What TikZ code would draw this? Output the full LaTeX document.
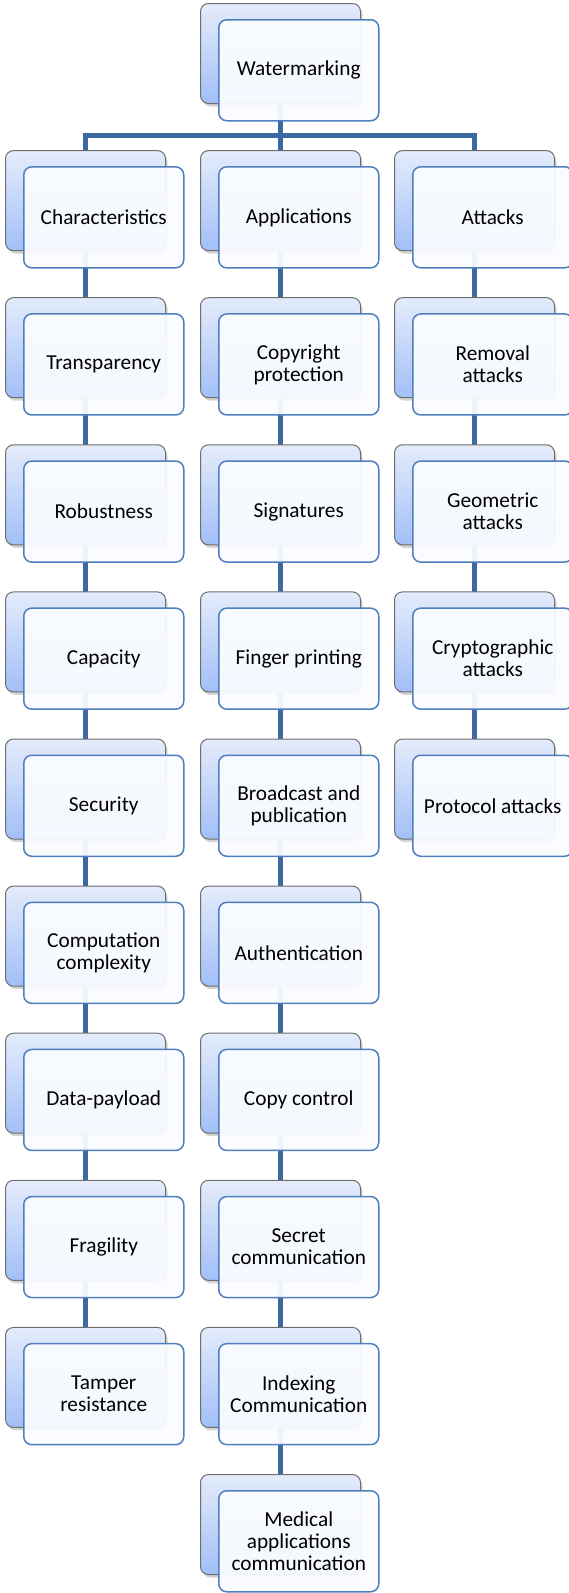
\documentclass[tikz,border=0pt]{standalone}
\usepackage{fontspec}
\setmainfont{Carlito}
\usetikzlibrary{shadows,calc}
\pgfdeclarelayer{background}
\pgfsetlayers{background,main}
\definecolor{connc}{HTML}{3D69A3}
\definecolor{backtop}{HTML}{E4ECFB}
\definecolor{backbot}{HTML}{A2BFF8}
\definecolor{backborder}{HTML}{6E6E6E}
\definecolor{frontfill}{HTML}{FAFCFF}
\definecolor{frontborder}{HTML}{4F7FBF}
\tikzset{
  backbox/.style={draw=backborder, line width=1pt, rounded corners=8pt,
    top color=backtop, bottom color=backbot, minimum width=160pt, minimum height=100pt,
    anchor=north west, inner sep=0pt,
    drop shadow={shadow xshift=2pt, shadow yshift=-3pt, opacity=0.35}},
  frontbox/.style={draw=frontborder, line width=1.5pt, rounded corners=8pt,
    fill=frontfill, fill opacity=0.94, text opacity=1, minimum width=160pt, minimum height=101pt,
    anchor=north west, inner sep=2pt, align=center, text=black,
    font=\fontsize{21.3}{22}\selectfont},
  conn/.style={draw=connc, line width=5pt}
}
\begin{document}
\begin{tikzpicture}[x=1pt,y=1pt]
\useasboundingbox (0,0) rectangle (569,-1593);
% column x positions (back box left edges)
\def\cxA{5}\def\cxB{200}\def\cxC{394}
% root
\node[backbox] (b-0-1) at (\cxB,-3) {};
\node[frontbox] (f-0-1) at (\cxB+18,-19) {Watermarking};
% column 1
\foreach \t [count=\i] in {Characteristics,Transparency,Robustness,Capacity,Security,
  {Computation\\complexity},Data-payload,Fragility,{Tamper\\resistance}}{
  \pgfmathsetmacro{\yy}{-(3+147.1*\i)}
  \node[backbox] (b-\i-0) at (\cxA,\yy) {};
  \node[frontbox] (f-\i-0) at (\cxA+18,\yy-16) {\t};
}
% column 2
\foreach \t [count=\i] in {Applications,{Copyright\\protection},Signatures,Finger printing,
  {Broadcast and\\publication},Authentication,Copy control,{Secret\\communication},
  {Indexing\\Communication},{Medical\\applications\\communication}}{
  \pgfmathsetmacro{\yy}{-(3+147.1*\i)}
  \node[backbox] (b-\i-1) at (\cxB,\yy) {};
  \node[frontbox] (f-\i-1) at (\cxB+18,\yy-16) {\t};
}
% column 3
\foreach \t [count=\i] in {Attacks,{Removal\\attacks},{Geometric\\attacks},{Cryptographic\\attacks},Protocol attacks}{
  \pgfmathsetmacro{\yy}{-(3+147.1*\i)}
  \node[backbox] (b-\i-2) at (\cxC,\yy) {};
  \node[frontbox] (f-\i-2) at (\cxC+18,\yy-16) {\t};
}
\coordinate (barY) at (0,-135);
\begin{pgfonlayer}{background}
  \draw[conn] (b-0-1.center) -- (b-0-1.center |- barY);
  \draw[conn] (b-9-0.center) -- (b-1-0.center |- barY) -- (b-1-2.center |- barY) -- (b-5-2.center);
  \draw[conn] (b-1-1.center |- barY) -- (b-10-1.center);
\end{pgfonlayer}
\end{tikzpicture}
\end{document}
